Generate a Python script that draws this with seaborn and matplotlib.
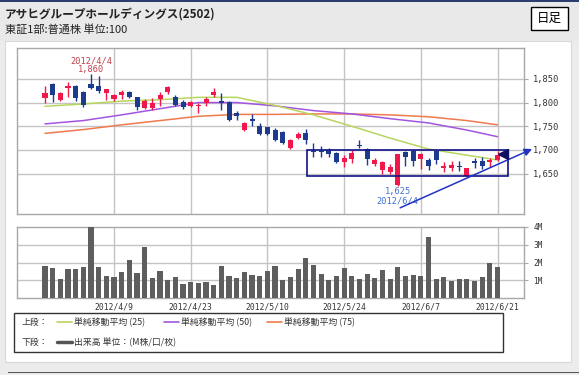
import numpy as np
import pandas as pd
import matplotlib
matplotlib.use("Agg")
import matplotlib.pyplot as plt
from matplotlib.patches import Rectangle
from matplotlib.lines import Line2D
import seaborn as sns

sns.set_style("white")
plt.rcParams['font.family'] = ['Noto Sans CJK JP', 'DejaVu Sans']

# ---------------- data ----------------
opens = [1809, 1839, 1806, 1830, 1835, 1823, 1839, 1835, 1820, 1807,
         1815, 1823, 1811, 1789, 1788, 1807, 1823, 1811, 1802, 1793,
         1793, 1799, 1815, 1803, 1801, 1779, 1743, 1765, 1751, 1748,
         1742, 1737, 1704, 1726, 1735, 1697, 1698, 1700, 1693, 1674,
         1681, 1711, 1702, 1670, 1658, 1653, 1626, 1695, 1698, 1681,
         1679, 1697, 1662, 1663, 1666, 1645, 1676, 1676, 1674, 1679]
closes = [1821, 1815, 1821, 1835, 1809, 1795, 1830, 1825, 1828, 1816,
          1823, 1811, 1790, 1804, 1799, 1816, 1832, 1795, 1790, 1801,
          1795, 1808, 1822, 1800, 1764, 1771, 1756, 1761, 1733, 1733,
          1720, 1714, 1720, 1733, 1721, 1695, 1695, 1692, 1674, 1684,
          1693, 1709, 1681, 1679, 1674, 1665, 1691, 1686, 1677, 1691,
          1667, 1679, 1667, 1669, 1664, 1662, 1672, 1667, 1678, 1690]
highs = [1834, 1841, 1823, 1843, 1837, 1825, 1860, 1857, 1829, 1818,
         1827, 1824, 1812, 1808, 1810, 1823, 1835, 1816, 1806, 1804,
         1799, 1812, 1830, 1820, 1803, 1782, 1760, 1776, 1757, 1749,
         1746, 1739, 1724, 1737, 1744, 1714, 1709, 1705, 1695, 1690,
         1700, 1721, 1704, 1684, 1676, 1670, 1692, 1697, 1700, 1693,
         1684, 1699, 1674, 1677, 1676, 1663, 1683, 1685, 1683, 1697]
lows = [1799, 1801, 1804, 1812, 1803, 1790, 1829, 1821, 1806, 1804,
        1808, 1810, 1785, 1786, 1785, 1792, 1817, 1792, 1786, 1790,
        1779, 1793, 1811, 1785, 1762, 1763, 1740, 1751, 1731, 1731,
        1718, 1712, 1702, 1723, 1713, 1685, 1685, 1686, 1672, 1665,
        1672, 1705, 1669, 1667, 1649, 1649, 1625, 1667, 1667, 1660,
        1658, 1670, 1653, 1655, 1656, 1644, 1662, 1660, 1665, 1676]
volume_m = [1.83, 1.70, 1.09, 1.65, 1.61, 1.74, 4.05, 1.74, 1.24, 1.17,
            1.44, 2.15, 1.39, 2.90, 1.11, 1.52, 1.04, 1.20, 0.81, 0.91,
            0.85, 0.91, 0.76, 1.78, 1.26, 1.13, 1.48, 1.30, 1.24, 1.52,
            1.78, 1.04, 1.17, 1.64, 2.26, 1.85, 1.38, 1.00, 1.26, 1.68,
            1.23, 1.09, 1.38, 1.13, 1.58, 1.09, 1.77, 1.26, 1.32, 1.26,
            3.43, 1.09, 1.17, 0.98, 1.09, 1.09, 0.98, 1.17, 2.00, 1.74]

ma_idx = [0, 5, 10, 15, 20, 25, 30, 35, 40, 45, 50, 55, 59]
ma25 = [1792, 1797, 1803, 1806, 1811, 1811, 1794, 1774, 1750, 1725, 1702, 1689, 1679]
ma50 = [1755, 1762, 1774, 1787, 1800, 1800, 1793, 1783, 1776, 1766, 1757, 1742, 1728]
ma75 = [1735, 1743, 1753, 1762, 1771, 1775, 1775, 1776, 1776, 1774, 1770, 1762, 1753]

date_tick_idx = [9, 19, 29, 39, 49, 59]
date_tick_labels = ["2012/4/9", "2012/4/23", "2012/5/10", "2012/5/24", "2012/6/7", "2012/6/21"]
price_ticks = [1650, 1700, 1750, 1800, 1850]
price_tick_labels = ["1,650", "1,700", "1,750", "1,800", "1,850"]
vol_ticks = [1, 2, 3, 4]
vol_tick_labels = ["1M", "2M", "3M", "4M"]

high_idx, high_label, high_date = 6, "1,860", "2012/4/4"
low_idx, low_label, low_date = 46, "1,625", "2012/6/4"

title = "アサヒグループホールディングス(2502)"
subtitle = "東証1部:普通株 単位:100"
legend_ma = ["単純移動平均 (25)", "単純移動平均 (50)", "単純移動平均 (75)"]
legend_vol = "出来高 単位：(M株/口/枚)"

# ---------------- styling ----------------
W, H = 579, 375
RED = "#f0184a"
BLUE = "#1c3a8e"
C25, C50, C75 = "#b8d65e", "#a355e0", "#ef7a4e"
GRID = "#c4c4c4"
FRAME = "#a8a8a8"

def fx(x):
    return x / W

def fy(y):
    return 1 - y / H

fig = plt.figure(figsize=(W / 100, H / 100), dpi=100, facecolor="#ececec")

# background panels
fig.patches.append(Rectangle((0, fy(41)), 1, 41 / H, transform=fig.transFigure,
                             facecolor="#e9e9e9", edgecolor="none", zorder=0))
fig.patches.append(Rectangle((fx(0), fy(2)), 1, 2 / H, transform=fig.transFigure,
                             facecolor="#2c3e70", edgecolor="none", zorder=0))
fig.patches.append(Rectangle((fx(5), fy(362)), 566 / W, 321 / H, transform=fig.transFigure,
                             facecolor="white", edgecolor="#d8d8d8", lw=0.8, zorder=0))
fig.patches.append(Rectangle((fx(8), fy(373)), 571 / W, 1.2 / H, transform=fig.transFigure,
                             facecolor="#555555", edgecolor="none", zorder=0))

n = len(opens)
idx = np.arange(n)
xlim = (-3.65, 62.45)

# ---------------- price axes ----------------
axp = fig.add_axes([fx(17), fy(214), 507 / W, 166 / H])
axp.set_zorder(5)
axp.set_facecolor("white")
axp.set_xlim(*xlim)
axp.set_ylim(1565, 1915)

for v in date_tick_idx:
    axp.axvline(v, color=GRID, lw=1, zorder=0)
for p in price_ticks:
    axp.axhline(p, color=GRID, lw=1, zorder=0)

df_ma = pd.DataFrame({"day": ma_idx, "ma25": ma25, "ma50": ma50, "ma75": ma75})
sns.lineplot(data=df_ma, x="day", y="ma75", color=C75, lw=1.1, ax=axp, zorder=2)
sns.lineplot(data=df_ma, x="day", y="ma50", color=C50, lw=1.1, ax=axp, zorder=2)
sns.lineplot(data=df_ma, x="day", y="ma25", color=C25, lw=1.1, ax=axp, zorder=2)

o = np.array(opens, float)
c = np.array(closes, float)
colors = [RED if cc >= oo else BLUE for oo, cc in zip(o, c)]
axp.vlines(idx, lows, highs, colors=colors, lw=1, zorder=3)
body_bottom = np.minimum(o, c)
body_h = np.maximum(np.abs(c - o), 1.5)
axp.bar(idx, body_h, bottom=body_bottom, width=0.66, color=colors, zorder=4, lw=0)

# annotations
ann_font = dict(fontsize=6.2, ha="center", va="center", family=["DejaVu Sans Mono"])
axp.text(high_idx, 1888, high_date, color="#c0404a", **ann_font)
axp.text(high_idx, 1869, high_label, color="#c0404a", **ann_font)
axp.text(low_idx, 1612, low_label, color="#3d6fd6", **ann_font)
axp.text(low_idx, 1592, low_date, color="#3d6fd6", **ann_font)

axp.add_patch(Rectangle((34.2, 1645), 26.2, 54, fill=False, edgecolor="#12128a", lw=1.2, zorder=5))
axp.annotate("", xy=(63.5, 1702), xytext=(46.3, 1578), annotation_clip=False,
             arrowprops=dict(arrowstyle="-|>", color="#2233c4", lw=1.1, mutation_scale=11,
                             shrinkA=0, shrinkB=0), zorder=6)
axp.plot([n - 1 + 0.75], [closes[-1] + 1], marker="<", ms=6.5, color="#101060", zorder=6, clip_on=False)

axp.set_xlabel("")
axp.set_ylabel("")
axp.set_xticks([])
axp.yaxis.tick_right()
axp.set_yticks(price_ticks)
axp.set_yticklabels(price_tick_labels, family=["DejaVu Sans Mono"])
axp.tick_params(axis="y", right=True, length=3, color=FRAME, labelsize=6.3, labelcolor="#333333", pad=3.6)
for s in axp.spines.values():
    s.set_color(FRAME)
    s.set_linewidth(1)

# ---------------- volume axes ----------------
axv = fig.add_axes([fx(17), fy(298), 507 / W, 71 / H])
axv.set_zorder(5)
axv.set_facecolor("white")
for v in date_tick_idx:
    axv.axvline(v, color=GRID, lw=1, zorder=0)
for t in vol_ticks[:-1]:
    axv.axhline(t, color=GRID, lw=1, zorder=0)

df_vol = pd.DataFrame({"day": idx, "vol": volume_m})
sns.barplot(data=df_vol, x="day", y="vol", native_scale=True, color="#5e5e5e",
            saturation=1, width=0.68, errorbar=None, ax=axv, zorder=3, lw=0)
axv.set_xlim(*xlim)
axv.set_ylim(0, 4)
axv.set_xlabel("")
axv.set_ylabel("")
axv.set_xticks(date_tick_idx)
axv.set_xticklabels(date_tick_labels, family=["DejaVu Sans Mono"])
axv.tick_params(axis="x", length=0, labelsize=5.8, labelcolor="#333333", pad=3.5)
axv.yaxis.tick_right()
axv.set_yticks(vol_ticks)
axv.set_yticklabels(vol_tick_labels, family=["DejaVu Sans Mono"])
axv.tick_params(axis="y", right=True, length=3, color=FRAME, labelsize=5.6, labelcolor="#333333", pad=3.6)
for s in axv.spines.values():
    s.set_color(FRAME)
    s.set_linewidth(1)

# ---------------- header ----------------
fig.text(fx(5), fy(14), title, fontsize=8.4, fontweight="bold", color="#222222", va="center", ha="left")
fig.text(fx(5), fy(30), subtitle, fontsize=8.0, color="#222222", va="center", ha="left")
fig.patches.append(Rectangle((fx(531), fy(30)), 37 / W, 23 / H, transform=fig.transFigure,
                             facecolor="white", edgecolor="black", lw=1, zorder=1))
fig.text(fx(549.5), fy(18.5), "日足", fontsize=9, color="black", va="center", ha="center", zorder=2)

# ---------------- legend box ----------------
fig.patches.append(Rectangle((fx(14), fy(352)), 489 / W, 39 / H, transform=fig.transFigure,
                             facecolor="white", edgecolor="#333333", lw=1, zorder=1))
lfs = 6.4
fig.text(fx(22), fy(322), "上段：", fontsize=lfs, color="#333333", va="center", ha="left")
fig.text(fx(22), fy(342), "下段：", fontsize=lfs, color="#333333", va="center", ha="left")
for x0, col, lab in [(57, C25, legend_ma[0]), (164, C50, legend_ma[1]), (267, C75, legend_ma[2])]:
    fig.lines.append(Line2D([fx(x0), fx(x0 + 15)], [fy(322), fy(322)], transform=fig.transFigure,
                            color=col, lw=1.2))
    fig.text(fx(x0 + 17), fy(322), lab, fontsize=lfs, color="#333333", va="center", ha="left")
fig.lines.append(Line2D([fx(57), fx(72)], [fy(342), fy(342)], transform=fig.transFigure,
                        color="#555555", lw=2.5))
fig.text(fx(74), fy(342), legend_vol, fontsize=lfs, color="#333333", va="center", ha="left")

fig.savefig("out.png", dpi=100, facecolor=fig.get_facecolor())
